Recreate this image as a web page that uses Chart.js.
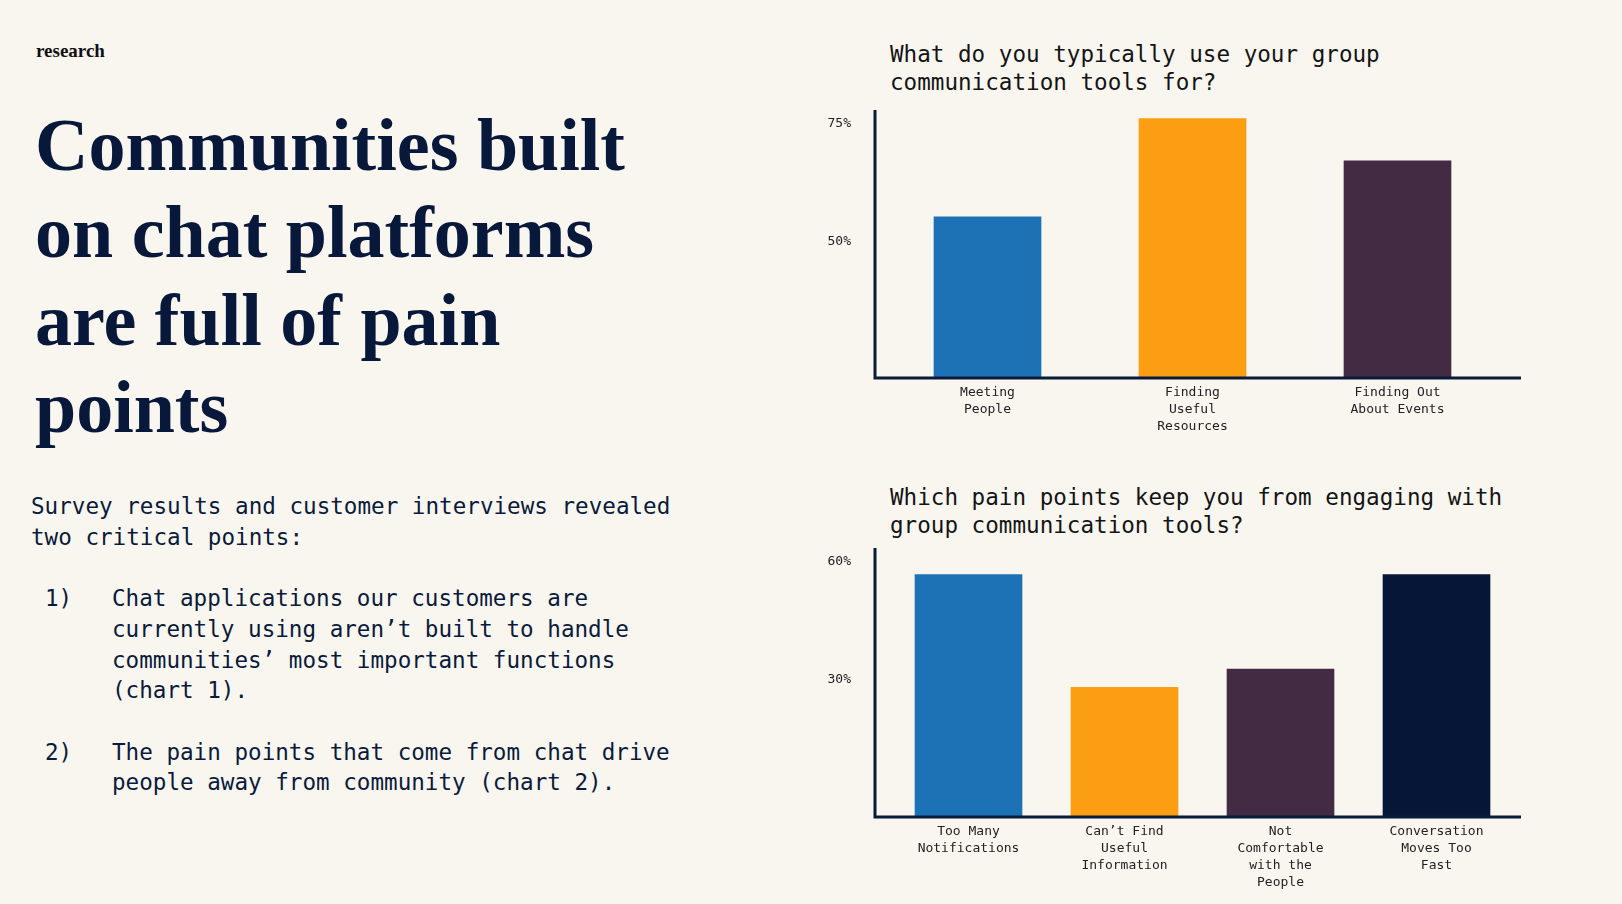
<!DOCTYPE html>
<html>
<head>
<meta charset="utf-8">
<script src="https://cdn.jsdelivr.net/npm/chart.js@4.4.1/dist/chart.umd.min.js"></script>
<style>
  html, body { margin: 0; padding: 0; background: #f9f6f0; }
  body { width: 1622px; height: 904px; position: relative; overflow: hidden; }
  .abs { position: absolute; }
  .tag { left: 36px; top: 42px; font: bold 19px/18px "Liberation Serif", serif; color: #111; }
  .headline { left: 35px; top: 102px; font: bold 74px/87.3px "Liberation Serif", serif; color: #07183a; white-space: nowrap; }
  .body { left: 31px; top: 491px; font: 22.6px/30.7px "DejaVu Sans Mono", monospace; color: #0a1a3a; white-space: nowrap; }
  .item { display: flex; }
  .num { width: 81px; padding-left: 14px; box-sizing: border-box; }
  .qtitle { left: 890px; font: 22.6px/27.5px "DejaVu Sans Mono", monospace; color: #141414; white-space: nowrap; }
  .box { position: absolute; left: 790px; width: 760px; }
</style>
</head>
<body>
<div class="abs tag">research</div>
<div class="abs headline">Communities built<br>on chat platforms<br>are full of pain<br>points</div>
<div class="abs body">
  <div>Survey results and customer interviews revealed<br>two critical points:</div>
  <div>&nbsp;</div>
  <div class="item"><div class="num">1)</div><div>Chat applications our customers are<br>currently using aren’t built to handle<br>communities’ most important functions<br>(chart 1).</div></div>
  <div>&nbsp;</div>
  <div class="item"><div class="num">2)</div><div>The pain points that come from chat drive<br>people away from community (chart 2).</div></div>
</div>

<div class="abs qtitle" style="top:41px">What do you typically use your group<br>communication tools for?</div>
<div class="abs qtitle" style="top:484px">Which pain points keep you from engaging with<br>group communication tools?</div>

<div class="box" style="top:100px;height:345px"><canvas id="usageChart"></canvas></div>
<div class="box" style="top:538px;height:366px"><canvas id="painChart"></canvas></div>

<script>
// ---------- data ----------
const usageLabels = [['Meeting', 'People'], ['Finding', 'Useful', 'Resources'], ['Finding Out', 'About Events']];
const usageValues = [55.3, 76.2, 67.2];
const usageTicks = [50, 75];
const usageRange = [21, 78];

const painLabels = [['Too Many', 'Notifications'], ['Can’t Find', 'Useful', 'Information'], ['Not', 'Comfortable', 'with the', 'People'], ['Conversation', 'Moves Too', 'Fast']];
const painValues = [56.8, 28.1, 32.7, 56.8];
const painTicks = [30, 60];
const painRange = [-5, 63.6];

const usageColors = ['#1c72b4', '#fb9e12', '#432b43'];
const painColors = ['#1c72b4', '#fb9e12', '#432b43', '#061637'];

// axis lines are drawn by hand so they can run a bit past the bars
const axisLines = {
    id: 'axisLines',
    afterDatasetsDraw(chart, args, opts) {
        const { ctx, chartArea: a } = chart;
        const x0 = a.left - opts.leftGap;
        ctx.save();
        ctx.strokeStyle = '#0a1a3a';
        ctx.lineWidth = 3;
        ctx.beginPath();
        ctx.moveTo(x0, a.top);
        ctx.lineTo(x0, a.bottom + 1.5);
        ctx.moveTo(x0 - 1.5, a.bottom);
        ctx.lineTo(a.right + opts.rightGap, a.bottom);
        ctx.stroke();
        ctx.restore();
    }
};

function makeChart(id, labels, values, colors, range, ticks, cfg) {
    return new Chart(document.getElementById(id), {
        type: 'bar',
        data: {
            labels: labels,
            datasets: [{ data: values, base: range[0], backgroundColor: colors, barThickness: 107, borderWidth: 0 }]
        },
        options: {
            responsive: true,
            maintainAspectRatio: false,
            animation: false,
            layout: { padding: { top: 10, right: cfg.right, left: 0, bottom: 0 } },
            plugins: {
                legend: { display: false },
                tooltip: { enabled: false },
                axisLines: { leftGap: cfg.leftGap, rightGap: cfg.rightGap }
            },
            scales: {
                x: {
                    grid: { display: false, drawTicks: false },
                    border: { display: false },
                    afterFit: s => { s.height = cfg.xHeight; },
                    ticks: {
                        color: '#222',
                        padding: 6,
                        maxRotation: 0,
                        autoSkip: false,
                        font: { family: 'DejaVu Sans Mono', size: 13, lineHeight: 1.3 }
                    }
                },
                y: {
                    min: range[0],
                    max: range[1],
                    grid: { display: false, drawTicks: false },
                    border: { display: false },
                    afterBuildTicks: s => { s.ticks = ticks.map(v => ({ value: v })); },
                    afterFit: s => { s.width = cfg.yWidth; s.paddingTop = 0; s.paddingBottom = 0; },
                    ticks: {
                        color: '#222',
                        padding: cfg.tickPad,
                        callback: v => v + '%',
                        font: { family: 'DejaVu Sans Mono', size: 13 }
                    }
                }
            }
        },
        plugins: [axisLines]
    });
}

makeChart('usageChart', usageLabels, usageValues, usageColors, usageRange, usageTicks,
    { right: 50, yWidth: 95, xHeight: 67, tickPad: 34, leftGap: 10, rightGap: 21 });
makeChart('painChart', painLabels, painValues, painColors, painRange, painTicks,
    { right: 35.5, yWidth: 100.5, xHeight: 87, tickPad: 39.5, leftGap: 15.5, rightGap: 6.5 });
</script>
</body>
</html>
